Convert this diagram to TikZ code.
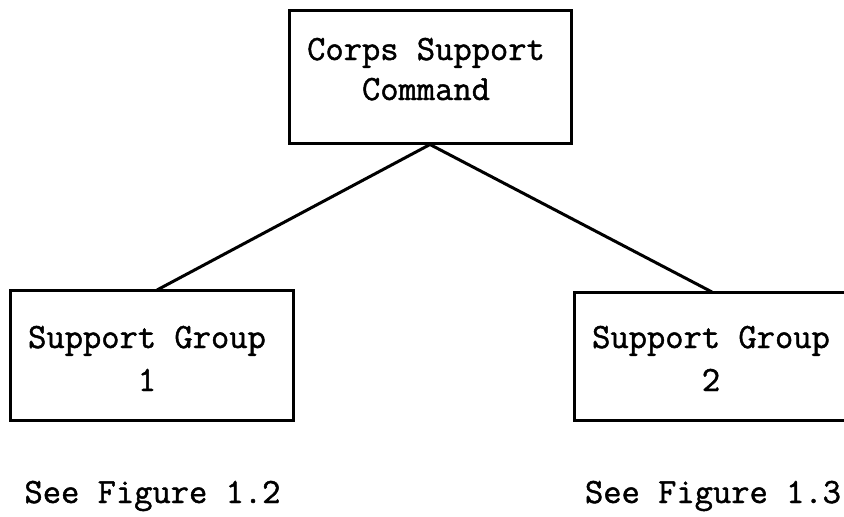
\documentclass[tikz,border=0pt]{standalone}
\usepackage{fontspec}
\newfontfamily\typewriter{Latin Modern Mono}[FakeBold=1.3]
\begin{document}
\begin{tikzpicture}[x=1pt,y=-1pt,
    orgbox/.style={draw, line width=3pt, rectangle, inner sep=0pt},
    boxtext/.style={anchor=base, inner sep=0pt,
      font=\typewriter\fontsize{35.5}{40}\selectfont},
    link/.style={line width=3pt}]
  \useasboundingbox (0,0) rectangle (844,517);
  \clip (0,0) rectangle (844,517);

  % command box
  \node[orgbox, minimum width=282pt, minimum height=133pt] (csc) at (430,76.5) {};
  \node[boxtext] (csc1) at (426,60) {Corps Support};
  \node[boxtext] (csc2) at (426,100) {Command};

  % subordinate groups
  \node[orgbox, minimum width=283pt, minimum height=130pt] (sg1) at (151.5,355) {};
  \node[boxtext] (sg1a) at (147,348) {Support Group};
  \node[boxtext] (sg1b) at (147,391) {1};

  \node[orgbox, minimum width=283pt, minimum height=128pt] (sg2) at (715.5,356) {};
  \node[boxtext] (sg2a) at (711,348) {Support Group};
  \node[boxtext] (sg2b) at (711,391) {2};

  % connectors from the command box to each group
  \coordinate (t1) at (157,290);
  \coordinate (t2) at (712,292);
  \draw[link] (csc.south) -- (t1);
  \draw[link] (csc.south) -- (t2);

  % cross references
  \node[boxtext] (ref1) at (152.5,503) {See Figure 1.2};
  \node[boxtext] (ref2) at (713,503) {See Figure 1.3};
\end{tikzpicture}
\end{document}
